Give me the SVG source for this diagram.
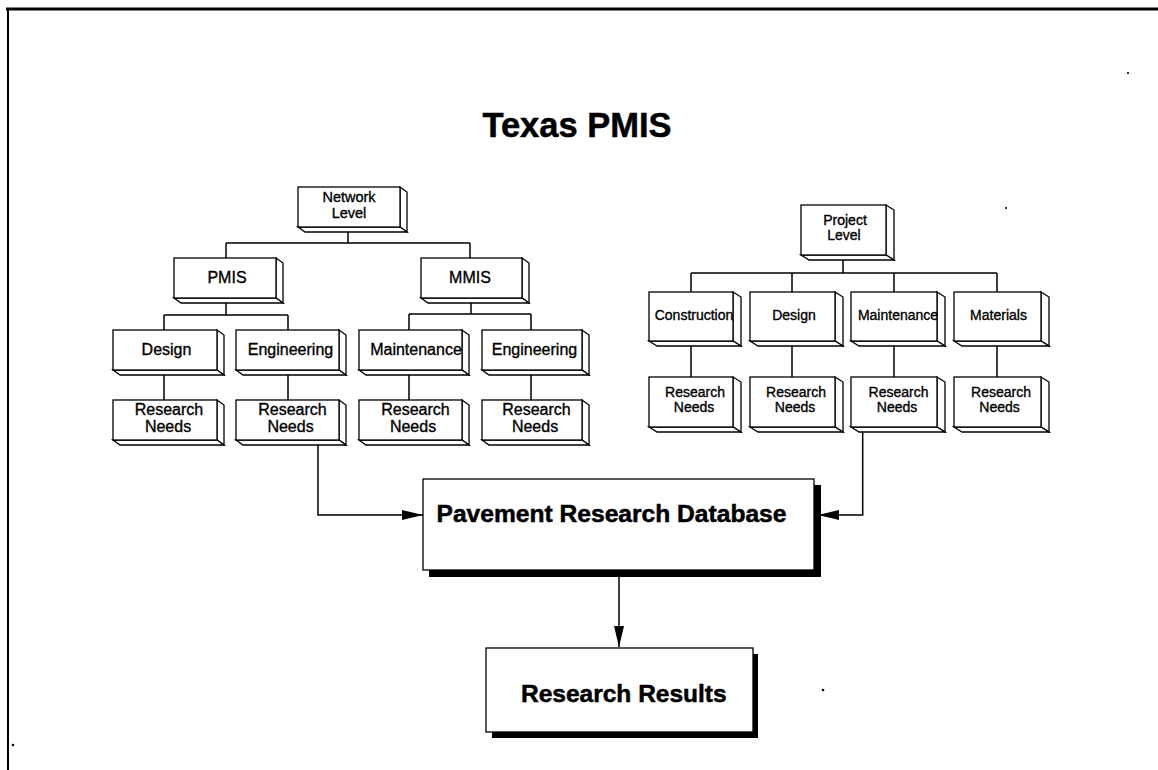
<svg xmlns="http://www.w3.org/2000/svg" width="1158" height="770" viewBox="0 0 1158 770">
<style>
.f{fill:#fff;stroke:#000;stroke-width:1.3;stroke-linejoin:miter}
.c{fill:none;stroke:#000;stroke-width:1.5}
.t{font-family:"Liberation Sans",Arial,sans-serif;fill:#000;text-anchor:middle;stroke:#000;stroke-width:0.35}
.l{font-size:16px}
.r{font-size:14px}
.b{font-weight:bold;stroke-width:0.5}
.sh{fill:#000}
.dot{fill:#000}
</style>
<defs>
<marker id="ah" markerWidth="22" markerHeight="12" refX="21" refY="6" orient="auto" markerUnits="userSpaceOnUse">
<path d="M0,1 L21,6 L0,11 z" fill="#000"/>
</marker>
</defs>
<rect width="1158" height="770" fill="#fff"/>
<g id="frame">
<line x1="6" y1="9" x2="1158" y2="9" stroke="#000" stroke-width="3"/>
<line x1="8" y1="8" x2="8" y2="770" stroke="#000" stroke-width="2"/>
<circle class="dot" cx="1128" cy="73" r="1.1"/>
<circle class="dot" cx="1006" cy="208" r="1.1"/>
<circle class="dot" cx="823" cy="690" r="1.3"/>
<circle class="dot" cx="13" cy="745" r="1.3"/>
</g>
<text class="t b" x="577" y="137" font-size="34.5">Texas PMIS</text>
<g id="connectors">
<path class="c" d="M348,232 V243 M226,243 H470 M226,243 V258 M470,243 V258"/>
<path class="c" d="M226,303 V315 M164,315 H288 M164,315 V330 M288,315 V330"/>
<path class="c" d="M471,303 V314 M409,314 H531 M409,314 V330 M531,314 V330"/>
<path class="c" d="M164,375 V400 M288,375 V400 M409,375 V400 M531,375 V400"/>
<path class="c" d="M843,260 V273 M691,273 H997 M691,273 V292 M792,273 V292 M894,273 V292 M997,273 V292"/>
<path class="c" d="M691,346 V377 M792,346 V377 M894,346 V377 M997,346 V377"/>
<path class="c" d="M318,445 V515 H423" marker-end="url(#ah)"/>
<path class="c" d="M862.7,432 V515 H818" marker-end="url(#ah)"/>
<path class="c" d="M619,577 V647" marker-end="url(#ah)"/>
</g>
<g id="network-level">
<polygon class="f" points="400,187 407,192 407,232 400,227"/>
<polygon class="f" points="298,227 305,232 407,232 400,227"/>
<rect class="f" x="298" y="187" width="102" height="40"/>
<text class="t" font-size="14.5" x="349" y="202">Network</text>
<text class="t" font-size="14.5" x="349" y="217.5">Level</text>
</g>
<g id="pmis">
<polygon class="f" points="276,258 283,263 283,303 276,298"/>
<polygon class="f" points="174,298 181,303 283,303 276,298"/>
<rect class="f" x="174" y="258" width="102" height="40"/>
<text class="t l" x="227" y="283">PMIS</text>
</g>
<g id="mmis">
<polygon class="f" points="522,258 529,263 529,303 522,298"/>
<polygon class="f" points="421,298 428,303 529,303 522,298"/>
<rect class="f" x="421" y="258" width="101" height="40"/>
<text class="t l" x="470" y="283">MMIS</text>
</g>
<g id="design-l">
<polygon class="f" points="217,330 224,335 224,375 217,370"/>
<polygon class="f" points="113,370 120,375 224,375 217,370"/>
<rect class="f" x="113" y="330" width="104" height="40"/>
<text class="t l" x="166.5" y="355">Design</text>
</g>
<g id="engineering-l">
<polygon class="f" points="339,330 346,335 346,375 339,370"/>
<polygon class="f" points="236,370 243,375 346,375 339,370"/>
<rect class="f" x="236" y="330" width="103" height="40"/>
<text class="t l" x="290.5" y="355">Engineering</text>
</g>
<g id="maintenance-l">
<polygon class="f" points="462,330 469,335 469,375 462,370"/>
<polygon class="f" points="359,370 366,375 469,375 462,370"/>
<rect class="f" x="359" y="330" width="103" height="40"/>
<text class="t l" x="416" y="355">Maintenance</text>
</g>
<g id="engineering-m">
<polygon class="f" points="582,330 589,335 589,375 582,370"/>
<polygon class="f" points="482,370 489,375 589,375 582,370"/>
<rect class="f" x="482" y="330" width="100" height="40"/>
<text class="t l" x="534.5" y="355">Engineering</text>
</g>
<g id="rn-l1">
<polygon class="f" points="217,400 224,405 224,445 217,440"/>
<polygon class="f" points="113,440 120,445 224,445 217,440"/>
<rect class="f" x="113" y="400" width="104" height="40"/>
<text class="t l" x="169" y="415">Research</text>
<text class="t l" x="168" y="432">Needs</text>
</g>
<g id="rn-l2">
<polygon class="f" points="339,400 346,405 346,445 339,440"/>
<polygon class="f" points="236,440 243,445 346,445 339,440"/>
<rect class="f" x="236" y="400" width="103" height="40"/>
<text class="t l" x="292.5" y="415">Research</text>
<text class="t l" x="290.5" y="432">Needs</text>
</g>
<g id="rn-l3">
<polygon class="f" points="462,400 469,405 469,445 462,440"/>
<polygon class="f" points="359,440 366,445 469,445 462,440"/>
<rect class="f" x="359" y="400" width="103" height="40"/>
<text class="t l" x="415.5" y="415">Research</text>
<text class="t l" x="413" y="432">Needs</text>
</g>
<g id="rn-l4">
<polygon class="f" points="582,400 589,405 589,445 582,440"/>
<polygon class="f" points="482,440 489,445 589,445 582,440"/>
<rect class="f" x="482" y="400" width="100" height="40"/>
<text class="t l" x="536.5" y="415">Research</text>
<text class="t l" x="535" y="432">Needs</text>
</g>
<g id="project-level">
<polygon class="f" points="886,205 894,210 894,260 886,255"/>
<polygon class="f" points="801,255 809,260 894,260 886,255"/>
<rect class="f" x="801" y="205" width="85" height="50"/>
<text class="t r" x="845" y="225">Project</text>
<text class="t r" x="844" y="240">Level</text>
</g>
<g id="construction">
<polygon class="f" points="733,292 741,297 741,346 733,341"/>
<polygon class="f" points="649,341 657,346 741,346 733,341"/>
<rect class="f" x="649" y="292" width="84" height="49"/>
<text class="t r" x="694" y="320">Construction</text>
</g>
<g id="design-r">
<polygon class="f" points="835,292 843,297 843,346 835,341"/>
<polygon class="f" points="750,341 758,346 843,346 835,341"/>
<rect class="f" x="750" y="292" width="85" height="49"/>
<text class="t r" x="794" y="320">Design</text>
</g>
<g id="maintenance-r">
<polygon class="f" points="937,292 945,297 945,346 937,341"/>
<polygon class="f" points="851,341 859,346 945,346 937,341"/>
<rect class="f" x="851" y="292" width="86" height="49"/>
<text class="t r" x="898" y="320">Maintenance</text>
</g>
<g id="materials">
<polygon class="f" points="1041,292 1049,297 1049,346 1041,341"/>
<polygon class="f" points="954,341 962,346 1049,346 1041,341"/>
<rect class="f" x="954" y="292" width="87" height="49"/>
<text class="t r" x="998.5" y="320">Materials</text>
</g>
<g id="rn-r1">
<polygon class="f" points="733,377 741,382 741,432 733,427"/>
<polygon class="f" points="649,427 657,432 741,432 733,427"/>
<rect class="f" x="649" y="377" width="84" height="50"/>
<text class="t r" x="695" y="396.7">Research</text>
<text class="t r" x="694" y="411.7">Needs</text>
</g>
<g id="rn-r2">
<polygon class="f" points="835,377 843,382 843,432 835,427"/>
<polygon class="f" points="750,427 758,432 843,432 835,427"/>
<rect class="f" x="750" y="377" width="85" height="50"/>
<text class="t r" x="796" y="396.7">Research</text>
<text class="t r" x="795" y="411.7">Needs</text>
</g>
<g id="rn-r3">
<polygon class="f" points="937,377 945,382 945,432 937,427"/>
<polygon class="f" points="851,427 859,432 945,432 937,427"/>
<rect class="f" x="851" y="377" width="86" height="50"/>
<text class="t r" x="898.5" y="396.7">Research</text>
<text class="t r" x="897" y="411.7">Needs</text>
</g>
<g id="rn-r4">
<polygon class="f" points="1041,377 1049,382 1049,432 1041,427"/>
<polygon class="f" points="954,427 962,432 1049,432 1041,427"/>
<rect class="f" x="954" y="377" width="87" height="50"/>
<text class="t r" x="1001" y="396.7">Research</text>
<text class="t r" x="999.5" y="411.7">Needs</text>
</g>
<g id="database">
<rect class="sh" x="429" y="485" width="392" height="92"/>
<rect class="f" x="423" y="479" width="391" height="91"/>
<text class="t b" x="436.5" y="522" font-size="24.6" style="text-anchor:start">Pavement Research Database</text>
</g>
<g id="results">
<rect class="sh" x="492" y="654" width="266" height="84"/>
<rect class="f" x="486" y="648" width="267" height="84"/>
<text class="t b" x="521" y="702" font-size="24.5" style="text-anchor:start">Research Results</text>
</g>
</svg>
